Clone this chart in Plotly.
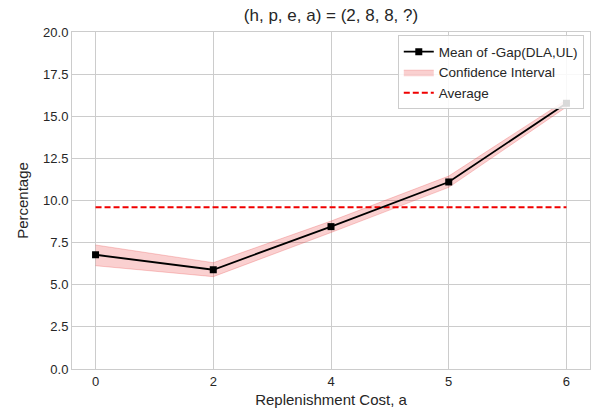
import plotly.graph_objects as go

# Replenishment cost levels (shown as evenly spaced categories)
costs = ["0", "2", "4", "5", "6"]
# Mean of -Gap(DLA,UL) in percent
gap_mean = [6.78, 5.89, 8.45, 11.10, 15.77]
# Confidence interval bounds
ci_lower = [6.13, 5.48, 8.10, 10.78, 15.55]
ci_upper = [7.36, 6.31, 8.78, 11.45, 15.98]

avg = sum(gap_mean) / len(gap_mean)
idx = list(range(len(costs)))

FONT = "Liberation Sans, Arial, sans-serif"
TXT = "#262626"
GRID = "#cccccc"

fig = go.Figure()

# Confidence band: lower bound first, then upper filled to it
fig.add_trace(go.Scatter(
    x=idx, y=ci_lower, mode="lines",
    line=dict(color="rgba(230,60,60,0.25)", width=1),
    showlegend=False, hoverinfo="skip",
))
fig.add_trace(go.Scatter(
    x=idx, y=ci_upper, mode="lines",
    line=dict(color="rgba(230,60,60,0.25)", width=1),
    fill="tonexty", fillcolor="rgba(230,40,40,0.22)",
    name="Confidence Interval",
    legendrank=2,
))

# Horizontal reference at the overall mean
fig.add_trace(go.Scatter(
    x=[idx[0], idx[-1]], y=[avg, avg], mode="lines",
    line=dict(color="#f00000", width=1.8, dash="6px,3px"),
    name="Average",
    legendrank=3,
))

# Mean curve with square markers, drawn on top
fig.add_trace(go.Scatter(
    x=idx, y=gap_mean, mode="lines+markers",
    line=dict(color="black", width=1.8),
    marker=dict(symbol="square", size=7, color="black"),
    name="Mean of -Gap(DLA,UL)",
    legendrank=1,
))

fig.update_layout(
    width=591, height=419,
    margin=dict(l=72, r=1, t=32, b=50),
    paper_bgcolor="white", plot_bgcolor="white",
    font=dict(family=FONT, color=TXT, size=13),
    title=dict(
        text="(h, p, e, a) = (2, 8, 8, ?)",
        x=0.5, xref="paper", xanchor="center",
        y=0.963, yanchor="middle",
        font=dict(size=17, color=TXT, family=FONT),
    ),
    legend=dict(
        x=0.988, y=0.99, xanchor="right", yanchor="top",
        traceorder="normal",
        bgcolor="rgba(255,255,255,0.85)",
        bordercolor=GRID, borderwidth=1,
        font=dict(size=13.5, color=TXT, family=FONT),
        tracegroupgap=0, itemwidth=30,
    ),
)

fig.update_xaxes(
    range=[-0.2, 4.2],
    tickmode="array", tickvals=idx, ticktext=costs,
    showgrid=True, gridcolor=GRID, gridwidth=1,
    showline=True, linecolor=GRID, linewidth=1, mirror=True,
    zeroline=False, ticks="",
    tickfont=dict(size=13, color=TXT),
    title=dict(text="Replenishment Cost, a", font=dict(size=15, color=TXT), standoff=6),
)
fig.update_yaxes(
    range=[0, 20],
    tickmode="array", tickvals=[0, 2.5, 5, 7.5, 10, 12.5, 15, 17.5, 20],
    ticktext=["0.0", "2.5", "5.0", "7.5", "10.0", "12.5", "15.0", "17.5", "20.0"],
    showgrid=True, gridcolor=GRID, gridwidth=1,
    showline=True, linecolor=GRID, linewidth=1, mirror=True,
    zeroline=False, ticks="",
    tickfont=dict(size=13, color=TXT),
    title=dict(text="Percentage", font=dict(size=15, color=TXT), standoff=10),
)

fig.write_html("out.html")
